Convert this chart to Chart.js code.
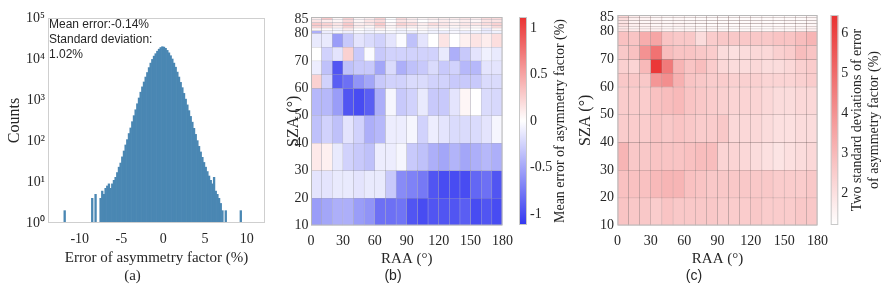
<!DOCTYPE html>
<html>
<head>
<meta charset="utf-8">
<script src="https://cdn.jsdelivr.net/npm/chart.js@4.4.1/dist/chart.umd.min.js"></script>
<style>
  body { margin: 0; background: #fff; width: 890px; height: 289px; position: relative; overflow: hidden; }
  canvas { position: absolute; top: 0; }
</style>
</head>
<body>
<canvas id="histChart" width="280" height="289" style="left:0"></canvas>
<canvas id="meanChart" width="240" height="289" style="left:280px"></canvas>
<canvas id="meanBar" width="75" height="289" style="left:505px"></canvas>
<canvas id="stdChart" width="265" height="289" style="left:570px"></canvas>
<canvas id="stdBar" width="70" height="289" style="left:820px"></canvas>
<script>
const serif = 'Liberation Serif';
const sans = 'Liberation Sans';
const ink = '#262626';

// (a) histogram of the error, bin centres and counts
const histX = [-11.8, -8.5, -8.1,
  -7.5, -7.3, -7.1, -6.9, -6.7, -6.5, -6.3, -6.1, -5.9, -5.7, -5.5, -5.3, -5.1, -4.9, -4.7, -4.5,
  -4.3, -4.1, -3.9, -3.7, -3.5, -3.3, -3.1, -2.9, -2.7, -2.5, -2.3, -2.1, -1.9, -1.7, -1.5, -1.3,
  -1.1, -0.9, -0.7, -0.5, -0.3, -0.1, 0.1, 0.3, 0.5, 0.7, 0.9, 1.1, 1.3, 1.5, 1.7, 1.9,
  2.1, 2.3, 2.5, 2.7, 2.9, 3.1, 3.3, 3.5, 3.7, 3.9, 4.1, 4.3, 4.5, 4.7, 4.9, 5.1,
  5.3, 5.5, 5.7, 5.9, 6.1, 6.3, 6.5, 6.7, 6.9, 7.1,
  7.5, 9.3];
const histCounts = [2, 4, 5,
  4, 6, 5, 7, 8, 9, 7, 9, 11, 13, 17, 23, 29, 41, 57, 80,
  108, 152, 208, 296, 415, 578, 810, 1120, 1550, 2090, 2750, 3630, 4680, 6170, 7940, 9770,
  11750, 13490, 15490, 17380, 19050, 19950, 19500, 18200, 16220, 14130, 12020, 10000, 7940, 6310, 4790, 3630,
  2690, 2000, 1450, 1050, 760, 550, 398, 288, 204, 145, 102, 74, 54, 40, 30, 23,
  18, 14, 11, 9, 13, 6, 5, 4, 3, 2,
  2, 2];
const histTicksX = [-10, -5, 0, 5, 10];
const histTicksY = [1, 10, 100, 1000, 10000, 100000];
const supDigits = ['\u2070', '\u00b9', '\u00b2', '\u00b3', '\u2074', '\u2075'];
const histNote = ['Mean error:-0.14%', 'Standard deviation:', '1.02%'];

// (b) and (c) heatmaps: RAA bins of 10 deg, SZA rows from bottom to top
const raaCenters = [5, 15, 25, 35, 45, 55, 65, 75, 85, 95, 105, 115, 125, 135, 145, 155, 165, 175];
const szaRows = [[10, 20], [20, 30], [30, 40], [40, 50], [50, 60], [60, 65], [65, 70], [70, 75], [75, 80],
  [80, 81], [81, 82], [82, 83], [83, 84], [84, 85], [85, 86]];
const szaTicks = [10, 20, 30, 40, 50, 60, 70, 80, 85];

const meanError = [
  [-0.55, -0.5, -0.45, -0.45, -0.55, -0.6, -0.8, -0.8, -0.78, -0.95, -1.0, -0.95, -0.95, -0.95, -0.9, -1.0, -0.95, -1.0],
  [-0.15, -0.15, -0.12, -0.12, -0.15, -0.12, -0.12, -0.3, -0.65, -0.7, -0.75, -0.95, -1.0, -1.0, -1.0, -0.85, -0.8, -0.95],
  [0.12, 0.08, -0.12, -0.25, -0.3, -0.35, -0.1, -0.1, -0.05, -0.3, -0.35, -0.45, -0.5, -0.42, -0.5, -0.45, -0.4, -0.45],
  [-0.35, -0.25, -0.35, -0.15, -0.25, -0.45, -0.4, -0.1, -0.1, -0.05, -0.25, -0.1, -0.15, -0.2, -0.2, -0.2, -0.15, -0.05],
  [-0.4, -0.4, -0.55, -0.95, -1.0, -0.9, -0.45, -0.05, -0.3, -0.25, -0.12, -0.3, -0.3, -0.15, 0.05, 0.0, -0.2, -0.22],
  [0.25, -0.25, -0.9, -0.8, -0.6, -0.5, -0.3, -0.25, -0.25, -0.2, -0.2, -0.25, -0.25, -0.3, -0.3, -0.3, -0.2, -0.2],
  [-0.1, -0.35, -0.95, -0.35, -0.3, -0.3, -0.5, -0.2, -0.45, -0.35, -0.3, -0.2, -0.3, -0.25, -0.4, -0.4, -0.15, -0.15],
  [0.0, -0.25, -0.15, 0.25, -0.3, -0.02, -0.3, -0.25, -0.25, -0.25, -0.25, -0.25, -0.12, -0.45, -0.3, -0.15, -0.08, -0.12],
  [-0.12, -0.12, -0.55, -0.3, -0.15, -0.2, -0.25, -0.15, -0.02, -0.35, -0.15, 0.0, 0.15, 0.0, 0.08, 0.15, 0.1, 0.18],
  [-0.45, -0.1, -0.05, -0.1, -0.05, -0.08, -0.05, -0.05, -0.08, -0.1, -0.05, -0.08, -0.1, -0.05, -0.1, -0.08, -0.12, -0.08],
  [0.05, 0.02, -0.05, 0.1, 0.0, -0.05, 0.05, 0.0, -0.05, 0.0, 0.02, -0.05, 0.0, -0.05, 0.02, 0.0, -0.1, 0.05],
  [0.25, 0.2, 0.1, 0.25, 0.1, 0.05, 0.2, 0.05, 0.15, 0.1, 0.05, 0.1, 0.1, 0.05, 0.1, 0.05, 0.1, 0.2],
  [0.3, 0.25, 0.15, 0.3, 0.1, 0.15, 0.3, 0.05, 0.25, 0.2, 0.1, 0.2, 0.15, 0.1, 0.15, 0.15, 0.2, 0.25],
  [0.15, 0.1, 0.05, 0.2, 0.05, 0.15, 0.2, 0.0, 0.15, 0.1, 0.0, 0.05, 0.1, 0.05, 0.1, 0.05, 0.15, 0.15],
  [0.1, 0.3, 0.05, 0.25, 0.05, 0.1, 0.25, 0.0, 0.2, 0.1, 0.05, 0.1, 0.1, 0.1, 0.15, 0.1, 0.2, 0.2]
];
const stdError2 = [
  [2.7, 2.6, 2.6, 2.5, 2.7, 2.6, 2.6, 2.6, 2.6, 2.5, 2.5, 2.5, 2.6, 2.5, 2.5, 2.5, 2.6, 2.6],
  [2.8, 2.8, 2.8, 3.0, 3.1, 3.1, 2.8, 2.7, 2.6, 2.6, 2.6, 2.6, 2.6, 2.6, 2.5, 2.5, 2.5, 2.6],
  [3.1, 2.6, 2.6, 2.7, 2.7, 2.7, 2.8, 2.9, 2.9, 2.3, 2.3, 2.2, 2.1, 2.0, 1.9, 2.0, 2.1, 2.2],
  [2.5, 2.5, 2.5, 2.7, 2.6, 2.7, 2.6, 2.5, 2.5, 2.6, 2.2, 2.2, 2.2, 2.1, 2.0, 2.0, 2.1, 2.1],
  [2.5, 2.5, 2.5, 2.8, 2.9, 3.0, 2.7, 2.6, 2.5, 2.4, 2.3, 2.3, 2.3, 2.2, 2.1, 2.1, 2.2, 2.2],
  [2.6, 2.6, 2.6, 3.9, 4.1, 3.2, 2.7, 2.6, 2.5, 2.5, 2.4, 2.4, 2.4, 2.3, 2.3, 2.3, 2.4, 2.5],
  [2.4, 2.3, 3.0, 6.3, 4.6, 3.1, 2.7, 2.9, 2.5, 2.2, 2.1, 2.1, 2.2, 2.1, 2.1, 2.2, 2.4, 2.5],
  [2.6, 2.8, 4.0, 4.8, 2.9, 2.7, 2.7, 2.6, 2.5, 2.1, 2.0, 2.1, 2.2, 2.2, 2.4, 2.5, 2.9, 2.7],
  [2.8, 2.7, 3.3, 3.5, 2.7, 2.6, 2.6, 2.1, 2.5, 2.6, 2.6, 2.6, 2.6, 2.6, 2.7, 2.7, 2.9, 3.1],
  [2.0, 1.7, 1.6, 1.6, 1.5, 1.5, 1.5, 1.4, 1.4, 1.4, 1.3, 1.4, 1.4, 1.4, 1.4, 1.4, 1.5, 1.6],
  [1.8, 1.5, 1.5, 1.5, 1.4, 1.4, 1.4, 1.4, 1.4, 1.3, 1.3, 1.3, 1.3, 1.3, 1.4, 1.4, 1.4, 1.5],
  [2.0, 1.6, 1.5, 1.4, 1.4, 1.5, 1.4, 1.3, 1.3, 1.3, 1.3, 1.3, 1.3, 1.4, 1.3, 1.3, 1.4, 1.4],
  [1.9, 1.5, 1.4, 1.5, 1.4, 1.4, 1.4, 1.4, 1.3, 1.3, 1.3, 1.3, 1.4, 1.3, 1.3, 1.4, 1.3, 1.4],
  [2.1, 1.6, 1.5, 1.4, 1.3, 1.4, 1.3, 1.3, 1.3, 1.3, 1.3, 1.3, 1.3, 1.3, 1.3, 1.3, 1.3, 1.4],
  [2.3, 1.7, 1.5, 1.4, 1.4, 1.4, 1.4, 1.3, 1.3, 1.3, 1.3, 1.3, 1.3, 1.3, 1.3, 1.3, 1.3, 1.4]
];
const meanLim = 1.12;
const meanBarTicks = [-1, -0.5, 0, 0.5, 1];
const stdMin = 1.2, stdMax = 6.45;
const stdBarTicks = [2, 3, 4, 5, 6];

// colour maps
const blue = [50, 55, 240], white = [255, 255, 255], red = [234, 50, 50];
function mix(a, b, t) {
  t = Math.max(0, Math.min(1, t));
  return 'rgb(' + a.map((c, i) => Math.round(c + (b[i] - c) * t)).join(',') + ')';
}
const meanColor = v => v < 0 ? mix(white, blue, -v / meanLim) : mix(white, red, v / meanLim);
const stdColor = v => mix(white, red, (v - stdMin) / (stdMax - stdMin));

Chart.defaults.font.family = serif;
Chart.defaults.color = ink;

// light box round the plot area
const frame = {
  id: 'frame',
  afterDraw(chart, args, o) {
    const a = chart.chartArea, ctx = chart.ctx;
    ctx.save();
    ctx.strokeStyle = o.color || '#c4c4c4';
    ctx.lineWidth = 1;
    ctx.strokeRect(a.left + 0.5, a.top + 0.5, a.width - 1, a.height - 1);
    ctx.restore();
  }
};
// text lines written inside / beside the plot
const note = {
  id: 'note',
  afterDraw(chart, args, o) {
    if (!o.lines) return;
    const a = chart.chartArea, ctx = chart.ctx;
    ctx.save();
    ctx.font = o.font;
    ctx.fillStyle = ink;
    ctx.textBaseline = 'middle';
    if (o.rotate) {
      ctx.textAlign = 'center';
      o.lines.forEach((t, i) => {
        ctx.save();
        ctx.translate(o.x[i], (a.top + a.bottom) / 2);
        ctx.rotate(-Math.PI / 2);
        ctx.fillText(t, 0, 0);
        ctx.restore();
      });
    } else {
      ctx.textAlign = 'left';
      o.lines.forEach((t, i) => ctx.fillText(t, a.left + o.dx, a.top + o.dy + i * o.step));
    }
    ctx.restore();
  }
};

const fixW = w => s => { s.width = w; };
const fixH = h => s => { s.height = h; };
const tickFont = { family: serif, size: 14 };
const titleFont = { family: serif, size: 15 };
const yTitleFont = { family: serif, size: 16 };

// (a)
new Chart(document.getElementById('histChart'), {
  type: 'bar',
  data: {
    datasets: [{
      data: histX.map((x, i) => ({ x: x, y: histCounts[i] })),
      backgroundColor: '#4a87b3',
      borderWidth: 0,
      barPercentage: 1,
      categoryPercentage: 1
    }]
  },
  options: {
    responsive: false, animation: false, events: [],
    layout: { padding: { top: 18, right: 15 } },
    plugins: {
      legend: { display: false }, tooltip: { enabled: false },
      subtitle: { display: true, position: 'bottom', text: '(a)', color: ink,
        font: { family: serif, size: 15 }, padding: { top: 0, bottom: 4 } },
      frame: { color: '#cfcfcf' },
      note: { lines: histNote, font: '12px ' + sans, dx: 1, dy: 7, step: 15 }
    },
    scales: {
      x: {
        type: 'linear', min: -13.8, max: 12.2, offset: false,
        afterBuildTicks: s => { s.ticks = histTicksX.map(v => ({ value: v })); },
        afterFit: fixH(44),
        grid: { display: false, drawTicks: false }, border: { display: false },
        ticks: { font: tickFont, padding: 8, callback: v => String(v) },
        title: { display: true, text: 'Error of asymmetry factor (%)', font: titleFont, padding: 0 }
      },
      y: {
        type: 'logarithmic', min: 1, max: 100000,
        afterBuildTicks: s => { s.ticks = histTicksY.map(v => ({ value: v })); },
        afterFit: fixW(48),
        grid: { display: false, drawTicks: false }, border: { display: false },
        ticks: { font: tickFont, padding: 3,
          callback: v => '10' + supDigits[Math.round(Math.log10(v))] },
        title: { display: true, text: 'Counts', font: yTitleFont, padding: { top: 5 } }
      }
    }
  },
  plugins: [frame, note]
});

// (b) and (c) heatmaps built as floating bars
function cells(values) {
  const out = [];
  szaRows.forEach((r, i) => raaCenters.forEach((x, j) => out.push({ x: x, y: [r[0], r[1]], v: values[i][j] })));
  return out;
}
function heatmap(id, values, colorFn, o) {
  return new Chart(document.getElementById(id), {
    type: 'bar',
    data: {
      datasets: [{
        data: cells(values),
        backgroundColor: c => c.raw ? colorFn(c.raw.v) : '#fff',
        borderColor: o.edge,
        borderWidth: 0.5,
        borderSkipped: false,
        barPercentage: 1,
        categoryPercentage: 1
      }]
    },
    options: {
      responsive: false, animation: false, events: [],
      layout: { padding: { top: o.top, right: o.right } },
      plugins: {
        legend: { display: false }, tooltip: { enabled: false },
        subtitle: { display: true, position: 'bottom', text: o.label, color: ink,
          font: { family: sans, size: 14 }, padding: { top: 0, bottom: 4.6 } },
        frame: { color: '#b8b8b8' }
      },
      scales: {
        x: {
          type: 'linear', min: 0, max: 180, offset: false,
          afterFit: fixH(o.xh),
          grid: { display: false, drawTicks: false, offset: false }, border: { display: false },
          ticks: { stepSize: 30, font: tickFont, padding: 7 },
          title: { display: true, text: 'RAA (°)', font: titleFont, padding: 0 }
        },
        y: {
          type: 'linear', min: 10, max: 86,
          afterBuildTicks: s => { s.ticks = szaTicks.map(v => ({ value: v })); },
          afterFit: fixW(o.yw),
          grid: { display: false, drawTicks: false }, border: { display: false },
          ticks: { font: tickFont, padding: o.tp, callback: v => String(v) },
          title: { display: true, text: 'SZA (°)', font: yTitleFont, padding: { top: o.titlePad } }
        }
      }
    },
    plugins: [frame]
  });
}
heatmap('meanChart', meanError, meanColor,
  { label: '(b)', top: 17, right: 14, xh: 42.1, yw: 31, tp: 2.5, titlePad: 3.9, edge: 'rgba(90,90,110,0.35)' });
heatmap('stdChart', stdError2, stdColor,
  { label: '(c)', top: 15, right: 17, xh: 42.1, yw: 47.5, tp: 3.5, titlePad: 6.4, edge: 'rgba(90,60,60,0.45)' });

// colour bars
function colorBar(id, min, max, ticks, colorFn, o) {
  return new Chart(document.getElementById(id), {
    type: 'bar',
    data: {
      labels: [''],
      datasets: [{
        data: [[min, max]],
        backgroundColor: c => {
          const a = c.chart.chartArea;
          if (!a) return null;
          const g = c.chart.ctx.createLinearGradient(0, a.bottom, 0, a.top);
          for (let k = 0; k <= 20; k++) g.addColorStop(k / 20, colorFn(min + (max - min) * k / 20));
          return g;
        },
        borderWidth: 0,
        barPercentage: 1,
        categoryPercentage: 1
      }]
    },
    options: {
      responsive: false, animation: false, events: [],
      layout: { padding: { left: o.left, top: o.top, bottom: o.bottom } },
      plugins: {
        legend: { display: false }, tooltip: { enabled: false },
        frame: { color: '#c8c8c8' },
        note: { lines: o.title, rotate: true, x: o.titleX, font: '14px ' + serif }
      },
      scales: {
        x: { display: false },
        y: {
          position: 'right', min: min, max: max,
          afterBuildTicks: s => { s.ticks = ticks.map(v => ({ value: v })); },
          afterFit: fixW(o.yw),
          grid: { display: false, drawTicks: false }, border: { display: false },
          ticks: { font: tickFont, padding: 3, callback: v => String(v) }
        }
      }
    },
    plugins: [frame, note]
  });
}
colorBar('meanBar', -meanLim, meanLim, meanBarTicks, meanColor,
  { left: 14, top: 17, bottom: 64, yw: 53, title: ['Mean error of asymmetry factor (%)'], titleX: [55] });
colorBar('stdBar', stdMin, stdMax, stdBarTicks, stdColor,
  { left: 10.7, top: 15, bottom: 64, yw: 51.7, title: ['Two standard deviations of error', 'of asymmetry factor (%)'], titleX: [37, 54] });
</script>
</body>
</html>
